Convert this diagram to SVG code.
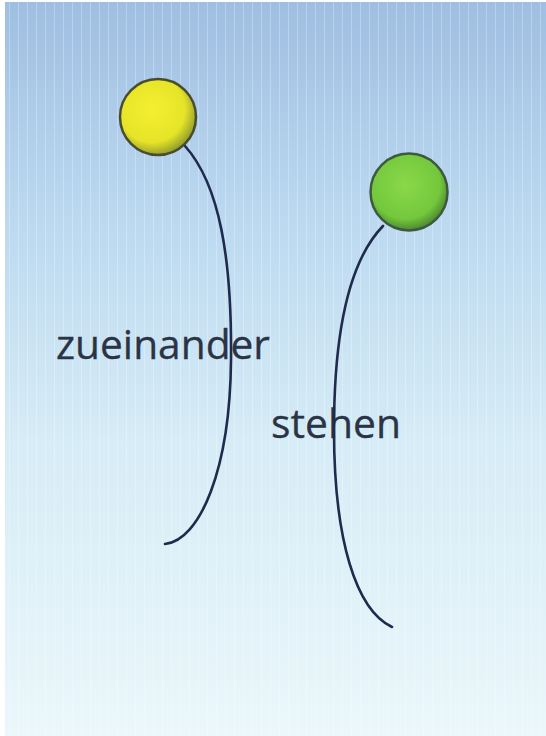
<svg xmlns="http://www.w3.org/2000/svg" width="546" height="736" viewBox="0 0 546 736">
  <defs>
    <linearGradient id="bg" x1="0" y1="0" x2="0" y2="1">
      <stop offset="0" stop-color="#9fbfe2"/>
      <stop offset="0.3" stop-color="#bcd9f0"/>
      <stop offset="0.6" stop-color="#d6ecf6"/>
      <stop offset="1" stop-color="#ebf7fb"/>
    </linearGradient>
    <radialGradient id="yellowFill" cx="0.42" cy="0.4" r="0.62">
      <stop offset="0" stop-color="#f4f030"/>
      <stop offset="0.7" stop-color="#e6e428"/>
      <stop offset="1" stop-color="#8f9a2c"/>
    </radialGradient>
    <radialGradient id="greenFill" cx="0.45" cy="0.4" r="0.6">
      <stop offset="0" stop-color="#8ad84a"/>
      <stop offset="0.75" stop-color="#74c83c"/>
      <stop offset="1" stop-color="#4d8a30"/>
    </radialGradient>
    <pattern id="stripes" width="9" height="10" patternUnits="userSpaceOnUse">
      <rect x="0" y="0" width="1" height="10" fill="#ffffff" opacity="0.25"/>
    </pattern>
  </defs>
  <style>
    .label { font-family: "Open Sans", "Noto Sans", sans-serif; font-size: 41px; fill: #2b3445; stroke: #2b3445; stroke-width: 0.3; }
    .conn { fill: none; stroke: #1f2b4c; stroke-width: 2.6; stroke-linecap: round; }
    .yellow { fill: url(#yellowFill); stroke: #4a4c30; stroke-width: 2.5; }
    .green { fill: url(#greenFill); stroke: #3d5a40; stroke-width: 2.5; }
  </style>
  <rect x="0" y="0" width="546" height="736" fill="#ffffff"/>
  <rect x="5" y="2" width="541" height="734" fill="url(#bg)"/>
  <rect x="5" y="2" width="541" height="734" fill="url(#stripes)"/>

  <g id="label-zueinander">
    <text class="label" x="56" y="359" textLength="214" lengthAdjust="spacingAndGlyphs">zueinander</text>
  </g>
  <g id="label-stehen">
    <text class="label" x="271" y="438" textLength="130" lengthAdjust="spacingAndGlyphs">stehen</text>
  </g>

  <g id="connectors">
    <path class="conn" d="M185,146 C220,185 232,260 231,360 C230,470 200,540 165,544"/>
    <path class="conn" d="M383,226 C350,260 334,330 334,430 C334,540 356,610 392,627"/>
  </g>

  <g id="node-yellow">
    <circle class="yellow" cx="158" cy="117" r="38"/>
  </g>
  <g id="node-green">
    <circle class="green" cx="409" cy="192" r="38.5"/>
  </g>
</svg>
